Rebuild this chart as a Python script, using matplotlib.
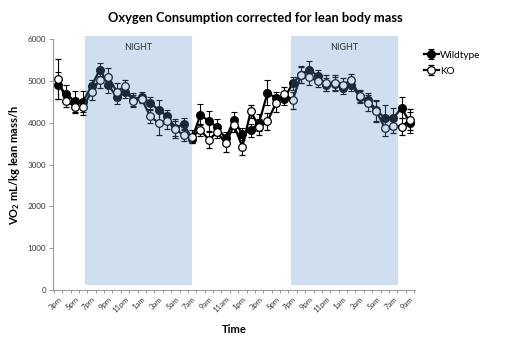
import matplotlib
matplotlib.use("Agg")
import matplotlib.pyplot as plt
from matplotlib.patches import Rectangle
import numpy as np

plt.rcParams['font.family'] = ['Lato', 'DejaVu Sans']
plt.rcParams['mathtext.fontset'] = 'custom'
plt.rcParams['mathtext.rm'] = 'Lato'
plt.rcParams['mathtext.bf'] = 'Lato:bold'

hours = ["3pm", "4pm", "5pm", "6pm", "7pm", "8pm", "9pm", "10pm", "11pm", "12am",
         "1am", "2am", "3am", "4am", "5am", "6am", "7am", "8am", "9am", "10am",
         "11am", "12pm", "1pm", "2pm", "3pm", "4pm", "5pm", "6pm", "7pm", "8pm",
         "9pm", "10pm", "11pm", "12am", "1am", "2am", "3am", "4am", "5am", "6am",
         "7am", "8am", "9am"]

wildtype = [4900, 4690, 4520, 4510, 4890, 5280, 4920, 4610, 4740, 4560,
            4630, 4480, 4310, 4170, 3890, 3970, 3620, 4200, 4040, 3900,
            3630, 4070, 3730, 3820, 4010, 4720, 4600, 4580, 4950, 5160,
            5280, 5120, 4920, 4940, 4840, 4920, 4620, 4560, 4300, 4120,
            4110, 4360, 4010]
wildtype_err = [320, 220, 250, 250, 150, 150, 200, 150, 150, 150,
                120, 150, 250, 150, 200, 150, 100, 250, 250, 200,
                150, 200, 150, 150, 200, 300, 150, 150, 150, 200,
                200, 150, 150, 150, 150, 150, 150, 150, 250, 300,
                250, 250, 250]
ko = [5050, 4530, 4390, 4380, 4750, 5040, 5110, 4750, 4880, 4520,
      4570, 4160, 4000, 4050, 3850, 3710, 3670, 3830, 3600, 3780,
      3510, 3940, 3430, 4280, 3900, 4040, 4470, 4700, 4540, 5150,
      5100, 5000, 4960, 4960, 4920, 5020, 4640, 4480, 4280, 3880,
      3920, 3910, 4080]
ko_err = [480, 150, 150, 200, 200, 200, 200, 200, 150, 150,
          100, 150, 300, 200, 200, 150, 150, 150, 200, 150,
          200, 150, 200, 150, 200, 200, 200, 150, 200, 200,
          200, 150, 200, 200, 150, 150, 150, 200, 250, 200,
          150, 200, 250]
night_spans = [(3.2, 16.0), (27.8, 40.6)]

fig = plt.figure(figsize=(5.07, 3.46), dpi=100)
ax = fig.add_axes([0.1045, 0.162, 0.714, 0.724])
x = np.arange(len(hours))

ax.errorbar(x, wildtype, yerr=wildtype_err, color='black', lw=1.6, marker='o',
            ms=5.5, mfc='black', mec='black', ecolor='black', elinewidth=0.8,
            capsize=2.2, capthick=0.8, label='Wildtype', zorder=3)
ax.errorbar(x, ko, yerr=ko_err, color='black', lw=1.6, marker='o',
            ms=5.5, mfc='white', mec='black', mew=0.9, ecolor='black',
            elinewidth=0.8, capsize=2.2, capthick=0.8, label='KO', zorder=4)

for (a, b) in night_spans:
    ax.add_patch(Rectangle((a, 120), b - a, 6000 - 120 + 90,
                           facecolor='#5a91c8', alpha=0.29, edgecolor='none',
                           zorder=5, clip_on=False))
    ax.text((a + b) / 2, 5800, 'NIGHT', ha='center', va='center',
            fontsize=6.5, color='#333333', zorder=6)

ax.set_xlim(-0.6, 42.6)
ax.set_ylim(0, 6000)
ax.set_yticks(range(0, 6001, 1000))
ax.set_xticks(x[::2])
ax.set_xticklabels(hours[::2], rotation=45, ha='right', rotation_mode='anchor',
                   fontsize=5.6, color='#333333')
ax.set_xticks(np.arange(-0.5, 43, 1), minor=True)
ax.tick_params(axis='x', which='major', length=0, pad=4)
ax.tick_params(axis='x', which='minor', length=2.5, width=0.6, color='#888888')
ax.tick_params(axis='y', length=3, width=0.6, color='#888888', labelsize=5.8,
               labelcolor='#333333', pad=2)
for s in ['top', 'right']:
    ax.spines[s].set_visible(False)
for s in ['left', 'bottom']:
    ax.spines[s].set_color('#999999')
    ax.spines[s].set_linewidth(0.8)

ax.set_ylabel(r'VO$_\mathbf{2}$ mL/kg lean mass/h', fontsize=8,
              fontweight='bold', labelpad=4)
ax.set_xlabel('Time', fontsize=8, fontweight='bold', labelpad=7)
fig.text(0.503, 0.948, 'Oxygen Consumption corrected for lean body mass',
         ha='center', va='center', fontsize=9.3, fontweight='bold')

leg = ax.legend(loc='upper left', bbox_to_anchor=(1.0, 0.99), frameon=False,
                fontsize=7.2, handlelength=1.5, handletextpad=0.1,
                labelspacing=0.7)

fig.savefig('out.png', dpi=100)
